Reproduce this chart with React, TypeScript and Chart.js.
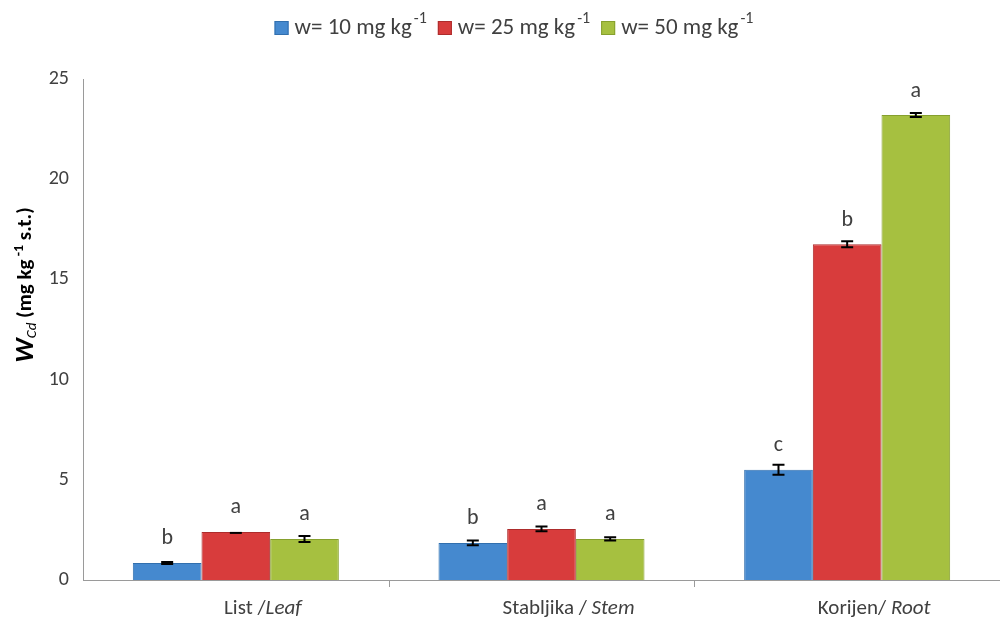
import React, { useEffect, useRef } from "react";
import { Chart, registerables } from "chart.js";

Chart.register(...registerables);

const categoriesLocal = ["List /", "Stabljika / ", "Korijen/ "];
const categoriesEn = ["Leaf", "Stem", "Root"];
const seriesNames = ["w= 10 mg kg", "w= 25 mg kg", "w= 50 mg kg"];
const seriesSup = "-1";
const values10 = [0.85, 1.85, 5.5];
const values25 = [2.4, 2.55, 16.75];
const values50 = [2.05, 2.05, 23.2];
const errors10 = [0.05, 0.12, 0.25];
const errors25 = [0.0, 0.12, 0.15];
const errors50 = [0.15, 0.08, 0.1];
const letters10 = ["b", "b", "c"];
const letters25 = ["a", "a", "b"];
const letters50 = ["a", "a", "a"];
const yTicks = [0, 5, 10, 15, 20, 25];

const COLORS = ["#4589cf", "#d83c3c", "#a6c040"];
const BORDERS = ["#316fae", "#ad2c2c", "#86a02e"];
const FONT = "Carlito, Lato, 'Open Sans', sans-serif";

const overlay = {
  id: "overlay",
  afterDatasetsDraw(chart: any) {
    const ctx = chart.ctx;
    const y = chart.scales.y;
    const errs = [errors10, errors25, errors50];
    const lets = [letters10, letters25, letters50];
    chart.data.datasets.forEach((ds: any, di: number) => {
      const meta = chart.getDatasetMeta(di);
      meta.data.forEach((el: any, i: number) => {
        const v = ds.data[i];
        const e = errs[di][i];
        const x = el.x;
        ctx.save();
        ctx.strokeStyle = "#000";
        ctx.lineWidth = 2;
        ctx.beginPath();
        if (e > 0) {
          const y1 = y.getPixelForValue(v + e);
          const y2 = y.getPixelForValue(v - e);
          ctx.moveTo(x, y1);
          ctx.lineTo(x, y2);
          ctx.moveTo(x - 6, y1);
          ctx.lineTo(x + 6, y1);
          ctx.moveTo(x - 6, y2);
          ctx.lineTo(x + 6, y2);
        } else {
          const y1 = y.getPixelForValue(v);
          ctx.moveTo(x - 6, y1 + 1);
          ctx.lineTo(x + 6, y1 + 1);
        }
        ctx.stroke();
        ctx.fillStyle = "#404040";
        ctx.font = `22px ${FONT}`;
        ctx.textAlign = "center";
        ctx.textBaseline = "middle";
        ctx.fillText(lets[di][i], x, y.getPixelForValue(v) - 24);
        ctx.restore();
      });
    });
  },
  afterDraw(chart: any) {
    const ctx = chart.ctx;
    const xs = chart.scales.x;
    const area = chart.chartArea;
    ctx.save();
    // x category labels
    ctx.fillStyle = "#404040";
    ctx.textBaseline = "middle";
    categoriesLocal.forEach((lab, i) => {
      const cx = xs.getPixelForValue(i) + 27;
      ctx.font = `21px ${FONT}`;
      const w1 = ctx.measureText(lab).width;
      ctx.font = `italic 21px ${FONT}`;
      const w2 = ctx.measureText(categoriesEn[i]).width;
      const start = cx - (w1 + w2) / 2;
      ctx.textAlign = "left";
      ctx.font = `21px ${FONT}`;
      ctx.fillText(lab, start, 609);
      ctx.font = `italic 21px ${FONT}`;
      ctx.fillText(categoriesEn[i], start + w1, 609);
    });
    // x category ticks
    ctx.strokeStyle = "#9a9a9a";
    ctx.lineWidth = 1;
    for (let k = 1; k < categoriesEn.length; k++) {
      const bx = Math.round(area.left + ((area.right - area.left) * k) / categoriesEn.length) + 0.5;
      ctx.beginPath();
      ctx.moveTo(bx, area.bottom);
      ctx.lineTo(bx, area.bottom + 7);
      ctx.stroke();
    }
    // legend
    const items = seriesNames.map((n, i) => {
      ctx.font = `23px ${FONT}`;
      const w = ctx.measureText(n).width;
      ctx.font = `16px ${FONT}`;
      const ws = ctx.measureText(seriesSup).width;
      return { n, w, ws, i };
    });
    const box = 14;
    const gapBox = 6;
    const gapItem = 11;
    const total = items.reduce((s, it) => s + box + gapBox + it.w + it.ws + 2, 0) + gapItem * (items.length - 1);
    let lx = 514 - total / 2;
    const ly = 28;
    items.forEach((it) => {
      ctx.fillStyle = COLORS[it.i];
      ctx.fillRect(lx, ly - box / 2, box, box);
      ctx.strokeStyle = BORDERS[it.i];
      ctx.lineWidth = 1;
      ctx.strokeRect(lx + 0.5, ly - box / 2 + 0.5, box - 1, box - 1);
      lx += box + gapBox;
      ctx.fillStyle = "#404040";
      ctx.textAlign = "left";
      ctx.textBaseline = "middle";
      ctx.font = `23px ${FONT}`;
      ctx.fillText(it.n, lx, ly);
      lx += it.w;
      ctx.font = `16px ${FONT}`;
      ctx.fillText(seriesSup, lx + 2, ly - 9);
      lx += it.ws + 2 + gapItem;
    });
    // y axis title
    ctx.translate(26, 285);
    ctx.rotate(-Math.PI / 2);
    ctx.fillStyle = "#000";
    ctx.textBaseline = "middle";
    ctx.textAlign = "left";
    const parts: [string, string, number][] = [
      ["W", `bold italic 27px ${FONT}`, 0],
      ["Cd", `italic 15px ${FONT}`, 6],
      [" (mg kg", `bold 21px ${FONT}`, 0],
      [" -1", `bold 14px ${FONT}`, -7],
      [" s.t.)", `bold 21px ${FONT}`, 0],
    ];
    let tw = 0;
    parts.forEach(([t, f]) => {
      ctx.font = f;
      tw += ctx.measureText(t).width;
    });
    let tx = -tw / 2;
    parts.forEach(([t, f, dy]) => {
      ctx.font = f;
      ctx.fillText(t, tx, dy);
      tx += ctx.measureText(t).width;
    });
    ctx.restore();
  },
};

export default function App() {
  const ref = useRef<HTMLCanvasElement>(null);
  useEffect(() => {
    if (!ref.current) return;
    const data = [values10, values25, values50];
    const chart = new Chart(ref.current, {
      type: "bar",
      data: {
        labels: categoriesEn.map((e, i) => `${categoriesLocal[i]}${e}`),
        datasets: seriesNames.map((n, i) => ({
          label: `${n}${seriesSup}`,
          data: data[i],
          backgroundColor: COLORS[i],
          borderColor: BORDERS[i],
          borderWidth: 1,
          categoryPercentage: 0.674,
          barPercentage: 1,
        })),
      },
      options: {
        animation: false,
        responsive: false,
        maintainAspectRatio: false,
        layout: { padding: { top: 79, left: 0, right: 0, bottom: 0 } },
        plugins: { legend: { display: false }, tooltip: { enabled: false } },
        scales: {
          x: {
            grid: { display: false, drawTicks: false },
            border: { color: "#9a9a9a", width: 1 },
            ticks: { display: false },
            afterFit: (s: any) => {
              s.height = 622 - 580;
            },
          },
          y: {
            min: 0,
            max: 25,
            afterBuildTicks: (s: any) => {
              s.ticks = yTicks.map((v) => ({ value: v }));
            },
            grid: { display: false, drawOnChartArea: false, drawTicks: true, tickLength: 6, tickColor: "#9a9a9a" },
            border: { color: "#9a9a9a", width: 1 },
            ticks: {
              color: "#404040",
              font: { size: 20, family: FONT },
              padding: 8,
            },
            afterFit: (s: any) => {
              s.width = 83;
            },
          },
        },
      },
      plugins: [overlay],
    });
    return () => chart.destroy();
  }, []);
  return (
    <canvas
      ref={ref}
      width={1000}
      height={622}
      style={{ position: "fixed", left: 0, top: 0, width: 1000, height: 622, background: "#fff" }}
    />
  );
}
